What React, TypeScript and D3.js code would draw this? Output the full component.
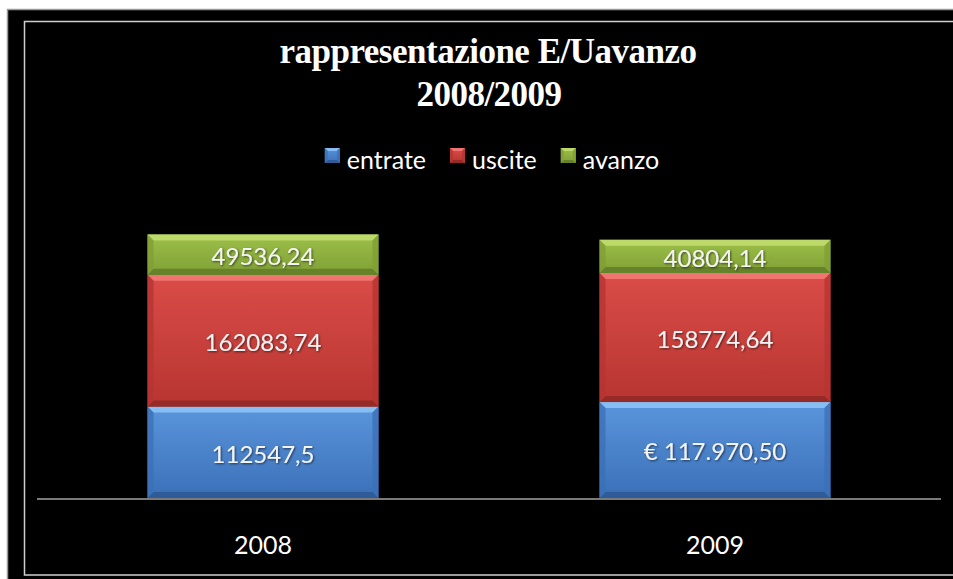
import * as d3 from 'd3'

const years = ['2008', '2009']
const seriesKeys = ['entrate', 'uscite', 'avanzo']
const entrate = [112547.5, 117970.5]
const uscite = [162083.74, 158774.64]
const avanzo = [49536.24, 40804.14]
const valueLabels = [
  ['112547,5', '€ 117.970,50'],
  ['162083,74', '158774,64'],
  ['49536,24', '40804,14'],
]
const titleLines = ['rappresentazione E/Uavanzo', '2008/2009']

const palette: Record<string, { top: string; bottom: string; light: string; dark: string }> = {
  entrate: { top: '#5a95dc', bottom: '#3b70b8', light: '#86bdf2', dark: '#2f5c98' },
  uscite: { top: '#da4c48', bottom: '#b73531', light: '#f07470', dark: '#962a27' },
  avanzo: { top: '#9dc049', bottom: '#7f9f35', light: '#bcd96a', dark: '#66822a' },
}

const W = 953, H = 579
const plot = { left: 37, right: 941, baseline: 498 }

const rows = years.map((y, i) => ({ year: y, entrate: entrate[i], uscite: uscite[i], avanzo: avanzo[i] }))

function measure(text: string, font: string) {
  const c = document.createElement('canvas').getContext('2d')
  if (!c) return text.length * 10
  c.font = font
  return c.measureText(text).width
}

function BevelRect({ x, y, w, h, k, b0 = 6 }: { x: number; y: number; w: number; h: number; k: string; b0?: number }) {
  const c = palette[k]
  const b = Math.min(b0, h / 3)
  const x1 = x + w, y1 = y + h
  return (
    <g>
      <rect x={x} y={y} width={w} height={h} fill={`url(#grad-${k})`} />
      <path d={`M${x},${y}L${x1},${y}L${x1 - b},${y + b}L${x + b},${y + b}Z`} fill={c.light} />
      <path d={`M${x},${y1}L${x1},${y1}L${x1 - b},${y1 - b}L${x + b},${y1 - b}Z`} fill={c.dark} />
      <path d={`M${x},${y}L${x + b},${y + b}L${x + b},${y1 - b}L${x},${y1}Z`} fill={c.bottom} opacity={0.8} />
      <path d={`M${x1},${y}L${x1 - b},${y + b}L${x1 - b},${y1 - b}L${x1},${y1}Z`} fill={c.bottom} opacity={0.8} />
    </g>
  )
}

export default function App() {
  const x = d3.scaleBand<string>()
    .domain(years)
    .range([plot.left, plot.right])
    .paddingInner(0.489)
    .paddingOuter(0.2445)

  const y = d3.scaleLinear()
    .domain([0, 350000])
    .range([plot.baseline, plot.baseline - 350000 / 1230])

  const stacked = d3.stack<any>().keys(seriesKeys)(rows)

  const legendFont = '25px Lato'
  const legendItems = seriesKeys.map(k => ({ k, w: measure(k, legendFont) }))
  const legendGap = 22, legendSpacing = 24
  const totalLegend = d3.sum(legendItems, d => legendGap + d.w) + legendSpacing * (legendItems.length - 1)
  let lx = 492 - totalLegend / 2
  const legendPos = legendItems.map(d => {
    const p = { ...d, x: lx }
    lx += legendGap + d.w + legendSpacing
    return p
  })

  return (
    <svg width={W} height={H} style={{ position: 'absolute', left: 0, top: 0 }}>
      <defs>
        {seriesKeys.map(k => (
          <linearGradient key={k} id={`grad-${k}`} x1="0" y1="0" x2="0" y2="1">
            <stop offset="0" stopColor={palette[k].top} />
            <stop offset="1" stopColor={palette[k].bottom} />
          </linearGradient>
        ))}
        <filter id="shadow" x="-10%" y="-10%" width="120%" height="140%">
          <feDropShadow dx="1" dy="1" stdDeviation="0.8" floodColor="#000" floodOpacity="0.6" />
        </filter>
      </defs>
      <rect x={0} y={0} width={W} height={H} fill="#fff" />
      <rect x={7} y={9} width={W - 7} height={H - 9} fill="#000" />
      <path d={`M7.5,${H}V9.5H${W}`} fill="none" stroke="#9a9a9a" strokeWidth={1.5} />
      <path d={`M${W},21.5H24.5V575H${W}`} fill="none" stroke="#cfcfcf" strokeWidth={1.5} />

      <g fontFamily="'Liberation Serif', serif" fontWeight="bold" fill="#fff" textAnchor="middle" fontSize={35}>
        <text x={488} y={63} letterSpacing={-0.5}>{titleLines[0]}</text>
        <text x={489} y={106} letterSpacing={-0.5}>{titleLines[1]}</text>
      </g>

      <g fontFamily="Lato, sans-serif" fontSize={25} fill="#fff">
        {legendPos.map(d => (
          <g key={d.k}>
            <BevelRect x={d.x} y={148} w={15} h={15} k={d.k} b0={3} />
            <text x={d.x + legendGap} y={169}>{d.k}</text>
          </g>
        ))}
      </g>

      {stacked.map((layer, si) => (
        <g key={layer.key}>
          {layer.map((seg, i) => {
            const x0 = x(years[i]) as number
            const y0 = y(seg[1]), y1 = y(seg[0])
            return (
              <g key={i}>
                <BevelRect x={x0} y={y0} w={x.bandwidth()} h={y1 - y0} k={layer.key} />
                <text x={x0 + x.bandwidth() / 2} y={(y0 + y1) / 2 + 2} dy="0.35em" textAnchor="middle"
                  fontFamily="Lato, sans-serif" fontSize={24} fill="#f4f4f4" filter="url(#shadow)">
                  {valueLabels[si][i]}
                </text>
              </g>
            )
          })}
        </g>
      ))}

      <line x1={plot.left} x2={plot.right} y1={plot.baseline + 1} y2={plot.baseline + 1} stroke="#7a7a7a" strokeWidth={2} />

      {years.map(yr => (
        <text key={yr} x={(x(yr) as number) + x.bandwidth() / 2} y={554} textAnchor="middle"
          fontFamily="Lato, sans-serif" fontSize={25} fill="#fff">{yr}</text>
      ))}
    </svg>
  )
}
